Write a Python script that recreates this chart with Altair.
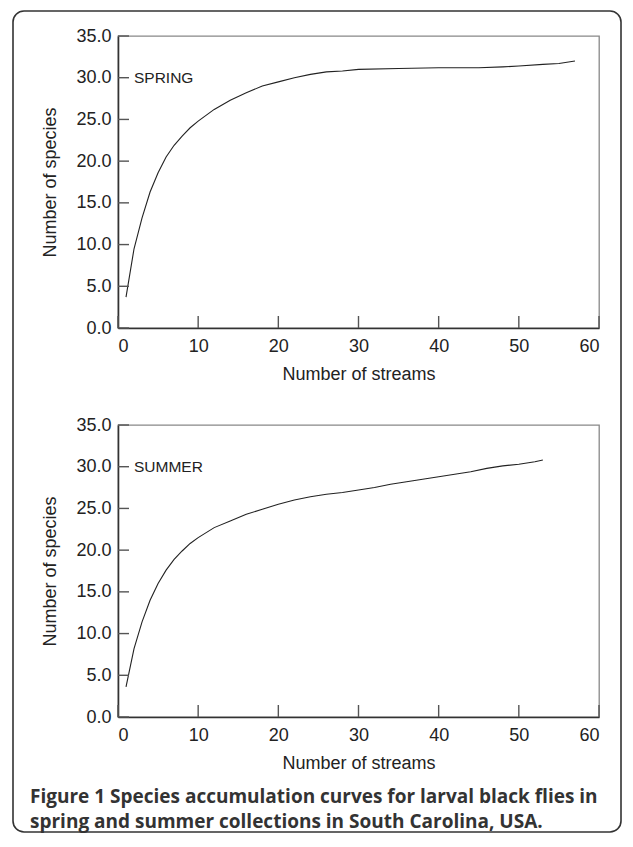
import altair as alt
import pandas as pd

# ---- data ----
spring_x = [1, 2, 3, 4, 5, 6, 7, 8, 9, 10, 12, 14, 16, 18, 20, 22, 24, 26, 28, 30,
            35, 40, 45, 48, 50, 53, 55, 57]
spring_y = [3.7, 9.5, 13.2, 16.3, 18.6, 20.5, 21.9, 23.0, 24.0, 24.8, 26.2, 27.3, 28.2,
            29.0, 29.5, 30.0, 30.4, 30.7, 30.8, 31.0, 31.1, 31.2, 31.2, 31.3, 31.4, 31.6,
            31.7, 32.0]

summer_x = [1, 2, 3, 4, 5, 6, 7, 8, 9, 10, 12, 14, 16, 18, 20, 22, 24, 26, 28, 30, 32,
            34, 36, 38, 40, 42, 44, 46, 48, 50, 52, 53]
summer_y = [3.6, 8.2, 11.4, 14.0, 16.0, 17.6, 18.9, 19.9, 20.8, 21.5, 22.7, 23.5, 24.3,
            24.9, 25.5, 26.0, 26.4, 26.7, 26.9, 27.2, 27.5, 27.9, 28.2, 28.5, 28.8, 29.1,
            29.4, 29.8, 30.1, 30.3, 30.6, 30.8]

x_ticks = [0, 10, 20, 30, 40, 50, 60]
y_ticks = [0, 5, 10, 15, 20, 25, 30, 35]

panel_labels = ["SPRING", "SUMMER"]
label_level = 30
x_title = "Number of streams"
y_title = "Number of species"
caption_lines = [
    "Figure 1 Species accumulation curves for larval black flies in",
    "spring and summer collections in South Carolina, USA.",
]

W, H = 481, 292
FONT = "Liberation Sans"

XAXIS = alt.Axis(values=x_ticks, title=x_title, ticks=False, tickSize=0,
                 labelPadding=9, titlePadding=10, grid=False)
YAXIS = alt.Axis(values=y_ticks, format=".1f", title=y_title, ticks=False,
                 tickSize=0, labelPadding=7, titlePadding=16, grid=False)


def panel(xs, ys, label, frame=False, caption=False):
    xscale = alt.Scale(domain=[0, 60], nice=False, zero=True)
    yscale = alt.Scale(domain=[0, 35], nice=False, zero=True)
    df = pd.DataFrame({"x": xs, "y": ys})
    line = alt.Chart(df).mark_line(color="#222", strokeWidth=1.1).encode(
        x=alt.X("x:Q", scale=xscale, axis=XAXIS, title=x_title),
        y=alt.Y("y:Q", scale=yscale, axis=YAXIS, title=y_title),
    )
    yt = alt.Chart(pd.DataFrame({"y": y_ticks})).mark_rule(color="#555", strokeWidth=1.4).encode(
        y=alt.Y("y:Q", scale=yscale, axis=YAXIS, title=y_title),
        x=alt.value(0), x2=alt.value(11))
    xt = alt.Chart(pd.DataFrame({"x": x_ticks})).mark_rule(color="#555", strokeWidth=1.4).encode(
        x=alt.X("x:Q", scale=xscale, axis=XAXIS, title=x_title),
        y=alt.value(H), y2=alt.value(H - 12))
    lab = alt.Chart(pd.DataFrame({"t": [label], "y": [label_level]})).mark_text(
        align="left", baseline="middle", fontSize=15.5, font=FONT, color="#222").encode(
        x=alt.value(16), y=alt.Y("y:Q", scale=yscale, axis=YAXIS, title=y_title), text="t:N")
    layers = [line, yt, xt, lab]
    if frame:
        fr = alt.Chart(pd.DataFrame({"a": [0]})).mark_rect(
            fill="transparent", stroke="#333", strokeWidth=1.6, cornerRadius=11).encode(
            x=alt.value(-105), x2=alt.value(503), y=alt.value(-25), y2=alt.value(796))
        layers.append(fr)
    if caption:
        for txt, yy in zip(caption_lines, [378, 403]):
            cap = alt.Chart(pd.DataFrame({"a": [0]})).mark_text(
                align="left", baseline="alphabetic", fontSize=19, font="Open Sans",
                fontWeight="bold", color="#333", text=txt).encode(
                x=alt.value(-88), y=alt.value(yy))
            layers.append(cap)
    return alt.layer(*layers).properties(width=W, height=H)


top = panel(spring_x, spring_y, panel_labels[0], frame=True)
bottom = panel(summer_x, summer_y, panel_labels[1], caption=True)

chart = alt.vconcat(top, bottom, spacing=97, bounds="flush").properties(
    autosize=alt.AutoSizeParams(type="none"),
    padding={"left": 110, "top": 28, "right": 24, "bottom": 797},
    background="white",
).configure_view(stroke="#888", strokeWidth=1.3).configure_axis(
    labelFont=FONT, labelFontSize=18, labelColor="#222",
    titleFont=FONT, titleFontSize=18, titleColor="#222", titleFontWeight="normal",
    domainColor="#333", domainWidth=1.6,
)

chart.save("out.html", embed_options={"renderer": "svg", "actions": False})
